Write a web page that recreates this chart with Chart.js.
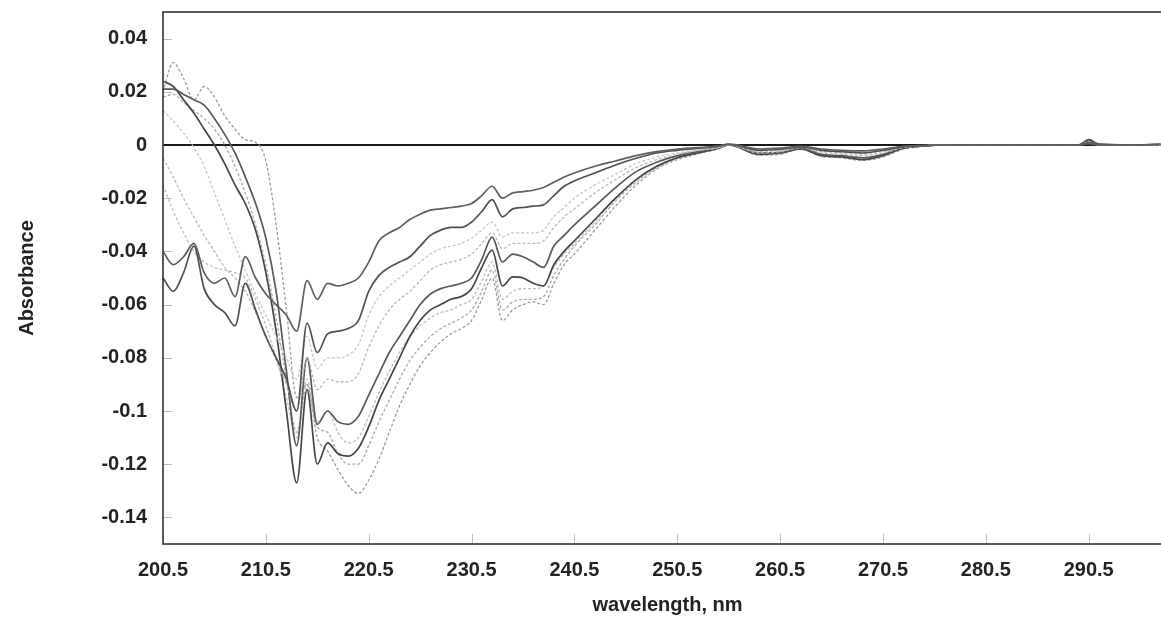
<!DOCTYPE html>
<html>
<head>
<meta charset="utf-8">
<script src="https://cdn.jsdelivr.net/npm/chart.js@4.4.1/dist/chart.umd.min.js"></script>
<style>
  html, body { margin: 0; padding: 0; background: #fff; overflow: hidden; }
  #wrap { width: 1161px; height: 624px; overflow: hidden; }
</style>
</head>
<body>
<div id="wrap"><canvas id="spectra" width="1172" height="624"></canvas></div>
<script>
// wavelength, nm (1 nm steps in the busy region, coarser after)
const wavelengths = [
  200.5, 201.5, 202.5, 203.5, 204.5, 205.5, 206.5, 207.5, 208.5, 209.5,
  210.5, 211.5, 212.5, 213.5, 214.5, 215.5, 216.5, 217.5, 218.5, 219.5,
  220.5, 221.5, 222.5, 223.5, 224.5, 225.5, 226.5, 227.5, 228.5, 229.5,
  230.5, 231.5, 232.5, 233.5, 234.5, 235.5, 236.5, 237.5, 238.5, 239.5,
  240.5, 242.5, 244.5, 246.5, 248.5, 250.5, 252.5, 254.5, 255.5, 258.5,
  260.5, 262.5, 264.5, 266.5, 268.5, 270.5, 272.5, 274.5, 276.5, 280.5,
  285.5, 289.5, 290.5, 291.5, 294.5, 297.5
];

const xTicks = [200.5, 210.5, 220.5, 230.5, 240.5, 250.5, 260.5, 270.5, 280.5, 290.5];
const yTicks = [-0.14, -0.12, -0.1, -0.08, -0.06, -0.04, -0.02, 0, 0.02, 0.04];

const spectrum1 = [
  -0.040, -0.045, -0.042, -0.037, -0.048, -0.052, -0.050, -0.057, -0.042, -0.050,
  -0.056, -0.060, -0.064, -0.070, -0.051, -0.058, -0.052, -0.053, -0.052, -0.050,
  -0.044, -0.036, -0.033, -0.031, -0.028, -0.026, -0.0245, -0.024, -0.0235, -0.023,
  -0.022, -0.019, -0.0155, -0.020, -0.018, -0.0175, -0.017, -0.016, -0.014, -0.012,
  -0.0105, -0.008, -0.006, -0.004, -0.0025, -0.0015, -0.001, -0.0004, 0.0003, -0.0015,
  -0.0012, -0.0005, -0.0015, -0.002, -0.0022, -0.0015, -0.0005, -0.0002, 0, 0,
  0, 0, 0.0005, 0, 0, 0.0003
];
const spectrum2 = [
  -0.050, -0.055, -0.048, -0.038, -0.054, -0.060, -0.063, -0.068, -0.052, -0.062,
  -0.072, -0.080, -0.088, -0.100, -0.067, -0.078, -0.071, -0.070, -0.069, -0.066,
  -0.055, -0.049, -0.046, -0.044, -0.042, -0.038, -0.034, -0.032, -0.031, -0.031,
  -0.029, -0.025, -0.0205, -0.027, -0.024, -0.0235, -0.023, -0.0225, -0.019, -0.0155,
  -0.0135, -0.0105, -0.0075, -0.005, -0.003, -0.002, -0.0013, -0.0005, 0.0002, -0.002,
  -0.0017, -0.0007, -0.002, -0.0025, -0.003, -0.002, -0.0007, -0.0002, 0, 0,
  0, 0, 0.0008, 0, 0, 0.0002
];
const spectrum3 = [
  0.013, 0.009, 0.0045, -0.001, -0.008, -0.018, -0.028, -0.038, -0.047, -0.056,
  -0.064, -0.072, -0.080, -0.088, -0.072, -0.084, -0.080, -0.080, -0.079, -0.075,
  -0.064, -0.057, -0.053, -0.050, -0.047, -0.044, -0.041, -0.039, -0.038, -0.037,
  -0.035, -0.032, -0.029, -0.0346, -0.033, -0.033, -0.033, -0.032, -0.027, -0.0235,
  -0.020, -0.015, -0.011, -0.007, -0.0045, -0.003, -0.002, -0.001, 0, -0.0025,
  -0.002, -0.0008, -0.0025, -0.003, -0.0035, -0.0025, -0.0008, -0.0002, 0, 0,
  0, 0, 0.001, 0, 0, 0
];
const spectrum4 = [
  -0.005, -0.012, -0.020, -0.027, -0.034, -0.040, -0.046, -0.050, -0.055, -0.063,
  -0.072, -0.081, -0.090, -0.100, -0.080, -0.092, -0.088, -0.089, -0.089, -0.086,
  -0.076, -0.068, -0.062, -0.058, -0.055, -0.051, -0.047, -0.045, -0.044, -0.043,
  -0.041, -0.037, -0.033, -0.039, -0.037, -0.037, -0.037, -0.036, -0.031, -0.027,
  -0.024, -0.018, -0.013, -0.0085, -0.0055, -0.0035, -0.002, -0.001, 0, -0.003,
  -0.0025, -0.001, -0.003, -0.0035, -0.004, -0.003, -0.001, -0.0003, 0, 0,
  0, 0, 0.0012, 0, 0, 0
];
const spectrum5 = [
  0.021, 0.021, 0.019, 0.017, 0.015, 0.010, 0.004, -0.003, -0.012, -0.022,
  -0.035, -0.055, -0.085, -0.113, -0.080, -0.105, -0.100, -0.104, -0.105, -0.102,
  -0.094, -0.086, -0.078, -0.072, -0.066, -0.060, -0.056, -0.054, -0.053, -0.052,
  -0.050, -0.043, -0.0346, -0.044, -0.041, -0.042, -0.044, -0.046, -0.038, -0.034,
  -0.030, -0.023, -0.016, -0.010, -0.0065, -0.004, -0.0025, -0.001, 0, -0.003,
  -0.0028, -0.0012, -0.0035, -0.004, -0.0048, -0.0035, -0.001, -0.0003, 0, 0,
  0, 0, 0.0015, 0.0002, 0, 0
];
const spectrum6 = [
  0.024, 0.022, 0.017, 0.012, 0.006, 0.000, -0.007, -0.015, -0.022, -0.032,
  -0.048, -0.070, -0.100, -0.127, -0.092, -0.120, -0.112, -0.116, -0.117, -0.114,
  -0.106, -0.096, -0.088, -0.080, -0.072, -0.066, -0.062, -0.060, -0.058, -0.057,
  -0.054, -0.046, -0.0395, -0.053, -0.0496, -0.050, -0.052, -0.053, -0.045, -0.040,
  -0.036, -0.028, -0.020, -0.013, -0.008, -0.0048, -0.003, -0.0012, 0, -0.0035,
  -0.003, -0.0015, -0.004, -0.0045, -0.0055, -0.004, -0.0012, -0.0003, 0, 0,
  0, 0, 0.002, 0.0003, 0, 0
];
const spectrum7 = [
  -0.015, -0.025, -0.033, -0.040, -0.044, -0.046, -0.047, -0.048, -0.050, -0.058,
  -0.068, -0.080, -0.095, -0.110, -0.088, -0.104, -0.100, -0.108, -0.112, -0.110,
  -0.102, -0.093, -0.085, -0.078, -0.072, -0.068, -0.065, -0.063, -0.062, -0.060,
  -0.058, -0.051, -0.044, -0.058, -0.055, -0.054, -0.054, -0.053, -0.046, -0.041,
  -0.037, -0.029, -0.020, -0.013, -0.008, -0.0045, -0.0028, -0.0012, 0, -0.0032,
  -0.003, -0.0013, -0.0038, -0.0042, -0.005, -0.0038, -0.0012, -0.0003, 0, 0,
  0, 0, 0.0012, 0, 0, 0
];
const spectrum8 = [
  0.018, 0.019, 0.016, 0.013, 0.010, 0.006, 0.000, -0.008, -0.018, -0.030,
  -0.045, -0.065, -0.088, -0.108, -0.090, -0.106, -0.108, -0.116, -0.120, -0.120,
  -0.113, -0.104, -0.096, -0.088, -0.081, -0.076, -0.072, -0.069, -0.067, -0.065,
  -0.062, -0.055, -0.047, -0.062, -0.059, -0.058, -0.058, -0.057, -0.049, -0.043,
  -0.038, -0.030, -0.021, -0.014, -0.0085, -0.005, -0.003, -0.0013, 0, -0.0035,
  -0.0032, -0.0015, -0.004, -0.0045, -0.0055, -0.004, -0.0013, -0.0004, 0, 0,
  0, 0, 0.001, 0, 0, 0
];
const spectrum9 = [
  0.020, 0.031, 0.025, 0.017, 0.022, 0.018, 0.011, 0.006, 0.002, 0.001,
  -0.006, -0.030, -0.062, -0.095, -0.090, -0.110, -0.115, -0.122, -0.128, -0.131,
  -0.126, -0.118, -0.108, -0.098, -0.090, -0.083, -0.078, -0.074, -0.071, -0.069,
  -0.066, -0.058, -0.050, -0.066, -0.062, -0.060, -0.059, -0.060, -0.052, -0.045,
  -0.041, -0.032, -0.023, -0.015, -0.009, -0.0055, -0.0033, -0.0015, 0, -0.0038,
  -0.0035, -0.0015, -0.0042, -0.0048, -0.0058, -0.0045, -0.0015, -0.0005, 0, 0,
  0, 0, 0.001, 0, 0, 0
];

const allSpectra = [spectrum1, spectrum2, spectrum3, spectrum4, spectrum5,
                    spectrum6, spectrum7, spectrum8, spectrum9];
const lineColors = ['#5e5e5e', '#505050', '#c6c6c6', '#b8b8b8', '#595959',
                    '#444444', '#bdbdbd', '#aaaaaa', '#9c9c9c'];
const isLight = [false, false, true, true, false, false, true, true, true];

Chart.defaults.font.family = "'Liberation Sans', Arial, sans-serif";
Chart.defaults.color = '#222';

// box border, zero line and the small inward tick marks
const frame = {
  id: 'frame',
  beforeDatasetsDraw(chart) {
    const { ctx, chartArea: a, scales: { x, y } } = chart;
    ctx.save();
    ctx.strokeStyle = '#bdbdbd';
    ctx.lineWidth = 1;
    y.ticks.forEach(t => {
      const py = Math.round(y.getPixelForValue(t.value)) + 0.5;
      ctx.beginPath();
      ctx.moveTo(a.left, py);
      ctx.lineTo(a.left + 9, py);
      ctx.stroke();
    });
    x.ticks.forEach(t => {
      const px = Math.round(x.getPixelForValue(t.value)) + 0.5;
      ctx.beginPath();
      ctx.moveTo(px, a.bottom);
      ctx.lineTo(px, a.bottom - 10);
      ctx.stroke();
    });
    const y0 = y.getPixelForValue(0);
    ctx.strokeStyle = '#1a1a1a';
    ctx.lineWidth = 2;
    ctx.beginPath();
    ctx.moveTo(a.left, y0);
    ctx.lineTo(a.right, y0);
    ctx.stroke();
    ctx.restore();
  },
  afterDraw(chart) {
    const { ctx, chartArea: a } = chart;
    ctx.save();
    ctx.strokeStyle = '#333';
    ctx.lineWidth = 1.6;
    ctx.strokeRect(a.left, a.top, a.right - a.left, a.bottom - a.top);
    ctx.restore();
  }
};

const ctx = document.getElementById('spectra').getContext('2d');
const chart = new Chart(ctx, {
  type: 'line',
  data: {
    datasets: allSpectra.map((values, i) => ({
      data: values.map((v, j) => ({ x: wavelengths[j], y: v })),
      borderColor: lineColors[i],
      borderWidth: isLight[i] ? 1.3 : 1.7,
      borderDash: isLight[i] ? [3, 2] : [],
      pointRadius: 0,
      fill: false,
      cubicInterpolationMode: 'monotone'
    }))
  },
  options: {
    responsive: false,
    animation: false,
    layout: { padding: { top: 12, right: 0, bottom: 0, left: 0 } },
    plugins: {
      legend: { display: false },
      tooltip: { enabled: false }
    },
    scales: {
      x: {
        type: 'linear',
        min: 200.5,
        max: 298.6,
        afterBuildTicks: axis => { axis.ticks = xTicks.map(v => ({ value: v })); },
        afterFit: axis => {
          axis.height = 80;
          axis.paddingLeft = 0;
          axis.paddingRight = 0;
        },
        grid: { display: false, drawTicks: false },
        border: { display: false },
        ticks: {
          autoSkip: false,
          maxRotation: 0,
          padding: 14,
          font: { size: 20, weight: 'bold' },
          callback: v => v.toFixed(1)
        },
        title: {
          display: true,
          text: 'wavelength, nm',
          font: { size: 20, weight: 'bold' },
          padding: { top: 0, bottom: 7 }
        }
      },
      y: {
        min: -0.15,
        max: 0.05,
        afterBuildTicks: axis => { axis.ticks = yTicks.map(v => ({ value: v })); },
        afterFit: axis => {
          axis.width = 163;
          axis.paddingTop = 0;
          axis.paddingBottom = 0;
        },
        grid: { display: false, drawTicks: false },
        border: { display: false },
        ticks: {
          padding: 16,
          font: { size: 20, weight: 'bold' },
          callback: v => String(+v.toFixed(2))
        },
        title: {
          display: true,
          text: 'Absorbance',
          font: { size: 20, weight: 'bold' },
          padding: { top: 15, bottom: 0 }
        }
      }
    }
  },
  plugins: [frame]
});
</script>
</body>
</html>
